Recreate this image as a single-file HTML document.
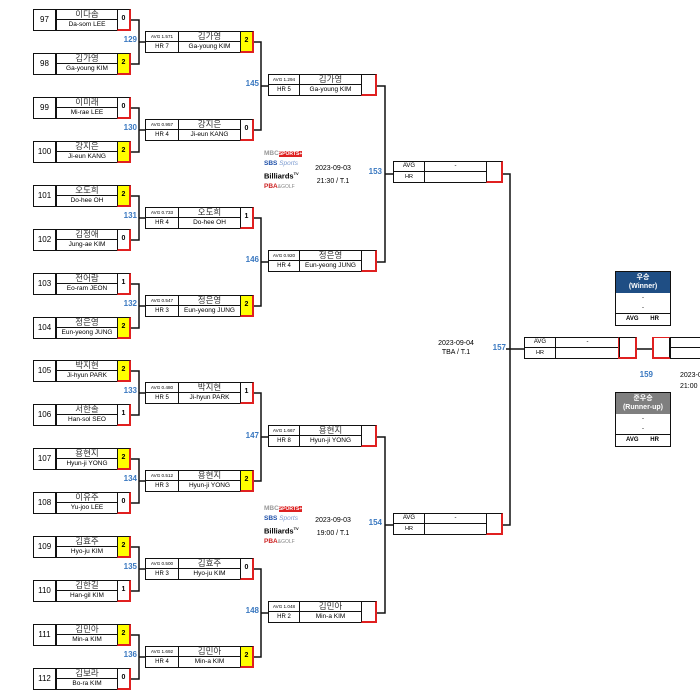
<!DOCTYPE html>
<html><head><meta charset="utf-8">
<style>
*{box-sizing:border-box;margin:0;padding:0}
body{width:700px;height:700px;background:#fff;position:relative;overflow:hidden;font-family:"Liberation Sans","Noto Sans CJK KR",sans-serif;color:#000}
.bx{position:absolute;height:22px}
.c{position:absolute;border:1.5px solid #111;text-align:center;overflow:hidden;white-space:nowrap}
.b1 .n{left:0;top:0;width:24px;height:22px;font-size:8px;line-height:19px;border-right-width:2px}
.b1 .k{left:23px;top:0;width:62px;height:11px;font-size:8.5px;line-height:8px;color:#333}
.b1 .e{left:23px;top:10px;width:62px;height:12px;font-size:6.5px;line-height:10px}
.s{border-color:#111 #e02020 #e02020 #111 !important;border-width:1.5px 2px 2px 1.5px !important;font-size:7px;font-weight:bold;line-height:18px;height:22px;top:0}
.y{background:#ffff00}
.b1 .s{left:84px;width:14px}
.b2 .a1{left:0;top:0;width:34px;height:11px;font-size:4.6px;line-height:9px}
.b2 .a2{left:0;top:10px;width:34px;height:12px;font-size:6px;line-height:10px}
.b2 .k{left:33px;top:0;width:63px;height:11px;font-size:8.5px;line-height:8px;color:#333}
.b2 .e{left:33px;top:10px;width:63px;height:12px;font-size:6.5px;line-height:10px}
.b2 .s{left:95px;width:14px}
.b3 .a1{left:0;top:0;width:32px;height:11px;font-size:4.6px;line-height:9px}
.b3 .a2{left:0;top:10px;width:32px;height:12px;font-size:6px;line-height:10px}
.b3 .k{left:31px;top:0;width:63px;height:11px;font-size:8.5px;line-height:8px;color:#333}
.b3 .e{left:31px;top:10px;width:63px;height:12px;font-size:6.5px;line-height:10px}
.b3 .s{left:93px;width:16px}
.b4 .a1{left:0;top:0;width:32px;height:11px;font-size:6px;line-height:9px}
.b4 .a2{left:0;top:10px;width:32px;height:12px;font-size:5.5px;line-height:10px}
.b4 .k{left:31px;top:0;width:63px;height:11px;font-size:6px;line-height:9px}
.b4 .e{left:31px;top:10px;width:63px;height:12px}
.b4 .s{left:93px;width:17px}
.lb{position:absolute;color:#3a78c0;font-size:8px;font-weight:bold;text-align:right;width:30px}
.t{position:absolute;font-size:7px;text-align:center}
.logo{position:absolute;font-size:6px;line-height:10px;font-weight:bold}
</style></head><body>
<svg width="700" height="700" style="position:absolute;left:0;top:0" stroke="#111" stroke-width="1.5" fill="none">
<path d="M131 20H139V64H131 M139 42H145"/>
<path d="M131 108H139V152H131 M139 130H145"/>
<path d="M131 196H139V240H131 M139 218H145"/>
<path d="M131 284H139V328H131 M139 306H145"/>
<path d="M131 371H139V415H131 M139 393H145"/>
<path d="M131 459H139V503H131 M139 481H145"/>
<path d="M131 547H139V591H131 M139 569H145"/>
<path d="M131 635H139V679H131 M139 657H145"/>
<path d="M254 42H261V130H254 M261 86H268"/>
<path d="M254 218H261V306H254 M261 262H268"/>
<path d="M254 393H261V481H254 M261 437H268"/>
<path d="M254 569H261V657H254 M261 613H268"/>
<path d="M377 86H385V262H377 M385 174H393"/>
<path d="M377 437H385V613H377 M385 525H393"/>
<path d="M503 174H510V525H503 M506 349H524"/>
<path d="M637 349H653"/>
</svg>

<div class="bx b1" style="left:33px;top:9px"><div class="c n">97</div><div class="c k">이다솜</div><div class="c e">Da-som LEE</div><div class="c s">0</div></div>
<div class="bx b1" style="left:33px;top:53px"><div class="c n">98</div><div class="c k">김가영</div><div class="c e">Ga-young KIM</div><div class="c s y">2</div></div>
<div class="bx b1" style="left:33px;top:97px"><div class="c n">99</div><div class="c k">이미래</div><div class="c e">Mi-rae LEE</div><div class="c s">0</div></div>
<div class="bx b1" style="left:33px;top:141px"><div class="c n">100</div><div class="c k">강지은</div><div class="c e">Ji-eun KANG</div><div class="c s y">2</div></div>
<div class="bx b1" style="left:33px;top:185px"><div class="c n">101</div><div class="c k">오도희</div><div class="c e">Do-hee OH</div><div class="c s y">2</div></div>
<div class="bx b1" style="left:33px;top:229px"><div class="c n">102</div><div class="c k">김정애</div><div class="c e">Jung-ae KIM</div><div class="c s">0</div></div>
<div class="bx b1" style="left:33px;top:273px"><div class="c n">103</div><div class="c k">전어람</div><div class="c e">Eo-ram JEON</div><div class="c s">1</div></div>
<div class="bx b1" style="left:33px;top:317px"><div class="c n">104</div><div class="c k">정은영</div><div class="c e">Eun-yeong JUNG</div><div class="c s y">2</div></div>
<div class="bx b1" style="left:33px;top:360px"><div class="c n">105</div><div class="c k">박지현</div><div class="c e">Ji-hyun PARK</div><div class="c s y">2</div></div>
<div class="bx b1" style="left:33px;top:404px"><div class="c n">106</div><div class="c k">서한솔</div><div class="c e">Han-sol SEO</div><div class="c s">1</div></div>
<div class="bx b1" style="left:33px;top:448px"><div class="c n">107</div><div class="c k">용현지</div><div class="c e">Hyun-ji YONG</div><div class="c s y">2</div></div>
<div class="bx b1" style="left:33px;top:492px"><div class="c n">108</div><div class="c k">이유주</div><div class="c e">Yu-joo LEE</div><div class="c s">0</div></div>
<div class="bx b1" style="left:33px;top:536px"><div class="c n">109</div><div class="c k">김효주</div><div class="c e">Hyo-ju KIM</div><div class="c s y">2</div></div>
<div class="bx b1" style="left:33px;top:580px"><div class="c n">110</div><div class="c k">김한길</div><div class="c e">Han-gil KIM</div><div class="c s">1</div></div>
<div class="bx b1" style="left:33px;top:624px"><div class="c n">111</div><div class="c k">김민아</div><div class="c e">Min-a KIM</div><div class="c s y">2</div></div>
<div class="bx b1" style="left:33px;top:668px"><div class="c n">112</div><div class="c k">김보라</div><div class="c e">Bo-ra KIM</div><div class="c s">0</div></div>

<div class="bx b2" style="left:145px;top:31px"><div class="c a1">AVG 1.571</div><div class="c a2">HR 7</div><div class="c k">김가영</div><div class="c e">Ga-young KIM</div><div class="c s y">2</div></div>
<div class="bx b2" style="left:145px;top:119px"><div class="c a1">AVG 0.957</div><div class="c a2">HR 4</div><div class="c k">강지은</div><div class="c e">Ji-eun KANG</div><div class="c s">0</div></div>
<div class="bx b2" style="left:145px;top:207px"><div class="c a1">AVG 0.733</div><div class="c a2">HR 4</div><div class="c k">오도희</div><div class="c e">Do-hee OH</div><div class="c s">1</div></div>
<div class="bx b2" style="left:145px;top:295px"><div class="c a1">AVG 0.547</div><div class="c a2">HR 3</div><div class="c k">정은영</div><div class="c e">Eun-yeong JUNG</div><div class="c s y">2</div></div>
<div class="bx b2" style="left:145px;top:382px"><div class="c a1">AVG 0.480</div><div class="c a2">HR 5</div><div class="c k">박지현</div><div class="c e">Ji-hyun PARK</div><div class="c s">1</div></div>
<div class="bx b2" style="left:145px;top:470px"><div class="c a1">AVG 0.512</div><div class="c a2">HR 3</div><div class="c k">용현지</div><div class="c e">Hyun-ji YONG</div><div class="c s y">2</div></div>
<div class="bx b2" style="left:145px;top:558px"><div class="c a1">AVG 0.500</div><div class="c a2">HR 3</div><div class="c k">김효주</div><div class="c e">Hyo-ju KIM</div><div class="c s">0</div></div>
<div class="bx b2" style="left:145px;top:646px"><div class="c a1">AVG 1.692</div><div class="c a2">HR 4</div><div class="c k">김민아</div><div class="c e">Min-a KIM</div><div class="c s y">2</div></div>

<div class="bx b3" style="left:268px;top:74px"><div class="c a1">AVG 1.294</div><div class="c a2">HR 5</div><div class="c k">김가영</div><div class="c e">Ga-young KIM</div><div class="c s"></div></div>
<div class="bx b3" style="left:268px;top:250px"><div class="c a1">AVG 0.920</div><div class="c a2">HR 4</div><div class="c k">정은영</div><div class="c e">Eun-yeong JUNG</div><div class="c s"></div></div>
<div class="bx b3" style="left:268px;top:425px"><div class="c a1">AVG 1.667</div><div class="c a2">HR 8</div><div class="c k">용현지</div><div class="c e">Hyun-ji YONG</div><div class="c s"></div></div>
<div class="bx b3" style="left:268px;top:601px"><div class="c a1">AVG 1.048</div><div class="c a2">HR 2</div><div class="c k">김민아</div><div class="c e">Min-a KIM</div><div class="c s"></div></div>

<div class="bx b4" style="left:393px;top:161px"><div class="c a1">AVG</div><div class="c a2">HR</div><div class="c k">-</div><div class="c e"></div><div class="c s"></div></div>
<div class="bx b4" style="left:393px;top:513px"><div class="c a1">AVG</div><div class="c a2">HR</div><div class="c k">-</div><div class="c e"></div><div class="c s"></div></div>

<div class="bx b4" style="left:524px;top:337px;width:200px">
<div class="c a1">AVG</div><div class="c a2">HR</div>
<div class="c k" style="width:65px">-</div><div class="c e" style="width:65px"></div>
<div class="c s" style="left:94px;width:19px;border-color:#111 #e02020 #e02020 #e02020 !important"></div>
<div class="c s" style="left:128px;width:19px;border-color:#e02020 #111 #e02020 #e02020 !important;border-width:1.5px 2px 2px 2px !important"></div>
<div class="c" style="left:146px;top:0;width:40px;height:11px"></div>
<div class="c" style="left:146px;top:10px;width:40px;height:12px"></div>
</div>

<div style="position:absolute;left:615px;top:271px;width:56px;height:55px;border:1.5px solid #111">
<div style="background:#1f4e84;color:#fff;font-size:7px;font-weight:bold;text-align:center;line-height:9px;height:21px;padding-top:1px">우승<br>(Winner)</div>
<div style="font-size:6px;text-align:center;line-height:10px">-<br>-</div>
<div style="border-top:1.5px solid #111;font-size:6px;font-weight:bold;line-height:10px;padding-left:10px">AVG <span style="margin-left:10px">HR</span></div>
</div>
<div style="position:absolute;left:615px;top:392px;width:56px;height:55px;border:1.5px solid #111">
<div style="background:#7f7f7f;color:#fff;font-size:7px;font-weight:bold;text-align:center;line-height:9px;height:21px;padding-top:1px">준우승<br>(Runner-up)</div>
<div style="font-size:6px;text-align:center;line-height:10px">-<br>-</div>
<div style="border-top:1.5px solid #111;font-size:6px;font-weight:bold;line-height:10px;padding-left:10px">AVG <span style="margin-left:10px">HR</span></div>
</div>

<div class="lb" style="left:107px;top:35px">129</div>
<div class="lb" style="left:107px;top:123px">130</div>
<div class="lb" style="left:107px;top:211px">131</div>
<div class="lb" style="left:107px;top:299px">132</div>
<div class="lb" style="left:107px;top:386px">133</div>
<div class="lb" style="left:107px;top:474px">134</div>
<div class="lb" style="left:107px;top:562px">135</div>
<div class="lb" style="left:107px;top:650px">136</div>
<div class="lb" style="left:229px;top:79px">145</div>
<div class="lb" style="left:229px;top:255px">146</div>
<div class="lb" style="left:229px;top:431px">147</div>
<div class="lb" style="left:229px;top:606px">148</div>
<div class="lb" style="left:352px;top:167px">153</div>
<div class="lb" style="left:352px;top:518px">154</div>
<div class="lb" style="left:476px;top:343px">157</div>
<div class="lb" style="left:623px;top:370px">159</div>

<div class="t" style="left:432px;top:339px;width:48px;line-height:9px">2023-09-04<br>TBA / T.1</div>
<div class="t" style="left:680px;top:370px;width:40px;text-align:left;line-height:11px">2023-09<br>21:00</div>

<div class="logo" style="left:264px;top:149px">
<div style="color:#999;font-size:6.5px">MBC<span style="background:#d22;color:#fff;font-size:5px">SPORTS+</span></div>
<div style="color:#1d4fa8;font-size:6.5px">SBS <i style="font-weight:normal;color:#7a9ad0">Sports</i></div>
<div style="color:#000;font-size:7.5px">Billiards<sup style="font-size:4px">TV</sup></div>
<div style="color:#c22;font-size:6.5px">PBA<span style="color:#888;font-weight:normal;font-size:5px">&amp;GOLF</span></div>
</div>
<div class="t" style="left:309px;top:162px;width:48px;line-height:13px">2023-09-03<br>21:30 / T.1</div>
<div class="logo" style="left:264px;top:504px">
<div style="color:#999;font-size:6.5px">MBC<span style="background:#d22;color:#fff;font-size:5px">SPORTS+</span></div>
<div style="color:#1d4fa8;font-size:6.5px">SBS <i style="font-weight:normal;color:#7a9ad0">Sports</i></div>
<div style="color:#000;font-size:7.5px">Billiards<sup style="font-size:4px">TV</sup></div>
<div style="color:#c22;font-size:6.5px">PBA<span style="color:#888;font-weight:normal;font-size:5px">&amp;GOLF</span></div>
</div>
<div class="t" style="left:309px;top:514px;width:48px;line-height:13px">2023-09-03<br>19:00 / T.1</div>
</body></html>
